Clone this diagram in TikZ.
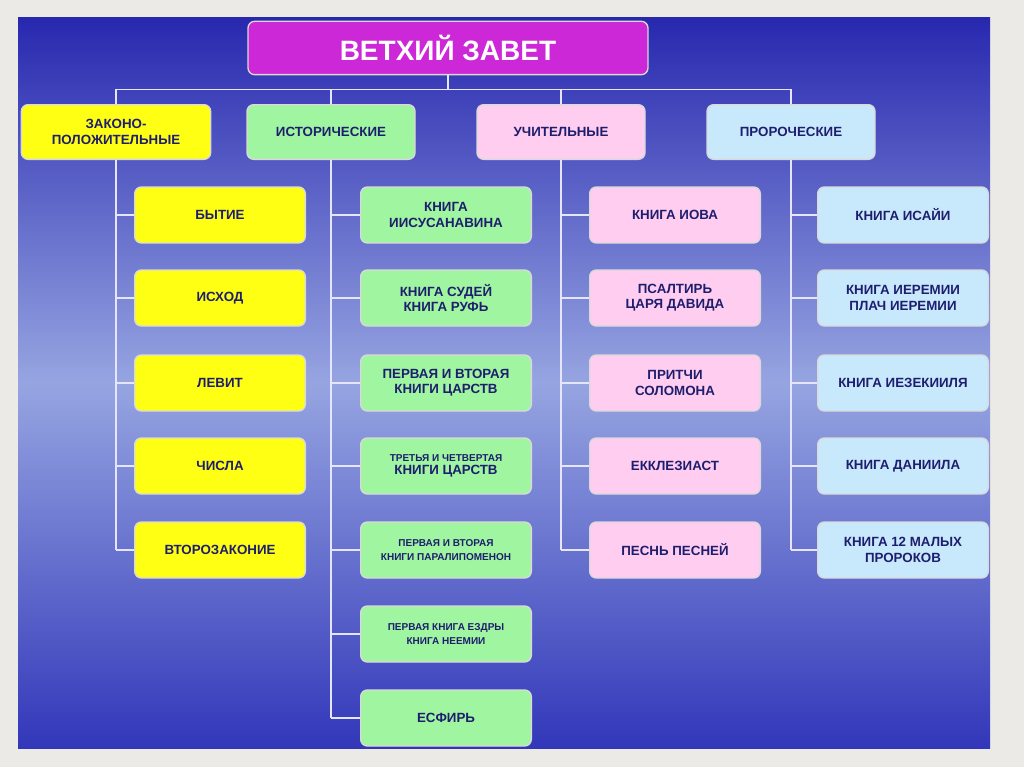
\documentclass[tikz,border=0pt]{standalone}
\usepackage{fontspec}
\setmainfont{Liberation Sans}
\usetikzlibrary{calc}
\definecolor{frame}{RGB}{236,234,230}
\definecolor{navy}{RGB}{30,30,110}
\definecolor{skytop}{RGB}{40,40,175}
\definecolor{skymid}{RGB}{150,165,225}
\definecolor{skybot}{RGB}{50,55,185}
\definecolor{lawcol}{RGB}{255,255,20}
\definecolor{histcol}{RGB}{160,245,160}
\definecolor{teachcol}{RGB}{255,205,240}
\definecolor{prophcol}{RGB}{200,232,252}
\definecolor{titlecol}{RGB}{205,40,215}
\tikzset{
  box/.style={draw=white!85!black,line width=1pt,rounded corners=5pt,align=center,
    font=\bfseries\fontsize{10}{11.5}\selectfont,text=navy,inner sep=1pt},
  catbox/.style={box,minimum width=126pt,minimum height=41pt},
  kidbox/.style={box,minimum width=128pt,minimum height=42pt},
  tiny/.style={font=\bfseries\fontsize{7.5}{10}\selectfont},
  wire/.style={draw=white!90!blue,line width=1pt},
}
\begin{document}
\begin{tikzpicture}[x=0.75pt,y=0.75pt,yscale=-1,xscale=1]
\fill[frame] (0,0) rectangle (1024,767);
\shade[top color=skytop,bottom color=skybot,middle color=skymid] (18,18) rectangle (990,748);
\useasboundingbox (0,0) rectangle (1024,767);

% title and categories
\node[box,fill=titlecol,text=white,minimum width=300pt,minimum height=40pt,
  font=\bfseries\fontsize{21}{24}\selectfont] (title) at (448,48) {ВЕТХИЙ ЗАВЕТ};
\node[catbox,minimum width=142pt,fill=lawcol] (law) at (116,132) {ЗАКОНО-\\ПОЛОЖИТЕЛЬНЫЕ};
\node[catbox,fill=histcol] (hist) at (331,132) {ИСТОРИЧЕСКИЕ};
\node[catbox,fill=teachcol] (teach) at (561,132) {УЧИТЕЛЬНЫЕ};
\node[catbox,fill=prophcol] (proph) at (791,132) {ПРОРОЧЕСКИЕ};

% books
\node[kidbox,fill=lawcol] (law1) at (220,215) {БЫТИЕ};
\node[kidbox,fill=lawcol] (law2) at (220,298) {ИСХОД};
\node[kidbox,fill=lawcol] (law3) at (220,383) {ЛЕВИТ};
\node[kidbox,fill=lawcol] (law4) at (220,466) {ЧИСЛА};
\node[kidbox,fill=lawcol] (law5) at (220,550) {ВТОРОЗАКОНИЕ};

\node[kidbox,fill=histcol] (hist1) at (446,215) {КНИГА\\ИИСУСАНАВИНА};
\node[kidbox,fill=histcol] (hist2) at (446,298) {КНИГА СУДЕЙ\\КНИГА РУФЬ};
\node[kidbox,fill=histcol] (hist3) at (446,383) {ПЕРВАЯ И ВТОРАЯ\\КНИГИ ЦАРСТВ};
\node[kidbox,fill=histcol,tiny] (hist4) at (446,466) {ТРЕТЬЯ И ЧЕТВЕРТАЯ\\{\fontsize{10}{11}\selectfont КНИГИ ЦАРСТВ}};
\node[kidbox,fill=histcol,tiny] (hist5) at (446,550) {ПЕРВАЯ И ВТОРАЯ\\КНИГИ ПАРАЛИПОМЕНОН};
\node[kidbox,fill=histcol,tiny] (hist6) at (446,634) {ПЕРВАЯ КНИГА ЕЗДРЫ\\КНИГА НЕЕМИИ};
\node[kidbox,fill=histcol] (hist7) at (446,718) {ЕСФИРЬ};

\node[kidbox,fill=teachcol] (teach1) at (675,215) {КНИГА ИОВА};
\node[kidbox,fill=teachcol] (teach2) at (675,298) {ПСАЛТИРЬ\\ЦАРЯ ДАВИДА};
\node[kidbox,fill=teachcol] (teach3) at (675,383) {ПРИТЧИ\\СОЛОМОНА};
\node[kidbox,fill=teachcol] (teach4) at (675,466) {ЕККЛЕЗИАСТ};
\node[kidbox,fill=teachcol] (teach5) at (675,550) {ПЕСНЬ ПЕСНЕЙ};

\node[kidbox,fill=prophcol] (proph1) at (903,215) {КНИГА ИСАЙИ};
\node[kidbox,fill=prophcol] (proph2) at (903,298) {КНИГА ИЕРЕМИИ\\ПЛАЧ ИЕРЕМИИ};
\node[kidbox,fill=prophcol] (proph3) at (903,383) {КНИГА ИЕЗЕКИИЛЯ};
\node[kidbox,fill=prophcol] (proph4) at (903,466) {КНИГА ДАНИИЛА};
\node[kidbox,fill=prophcol] (proph5) at (903,550) {КНИГА 12 МАЛЫХ\\ПРОРОКОВ};

% connectors
\coordinate (bus) at ($(title.south)+(0,14)$);
\draw[wire] (title.south) -- (bus);
\draw[wire] (law.north) -- (law.north |- bus) -- (proph.north |- bus) -- (proph.north);
\foreach \c in {hist,teach}
  \draw[wire] (\c.north) -- (\c.north |- bus);
\foreach \c/\n in {law/5,hist/7,teach/5,proph/5}{
  \draw[wire] (\c.south) -- (\c.south |- \c\n.west);
  \foreach \i in {1,...,\n}
    \draw[wire] (\c.south |- \c\i.west) -- (\c\i.west);
}
\end{tikzpicture}
\end{document}
